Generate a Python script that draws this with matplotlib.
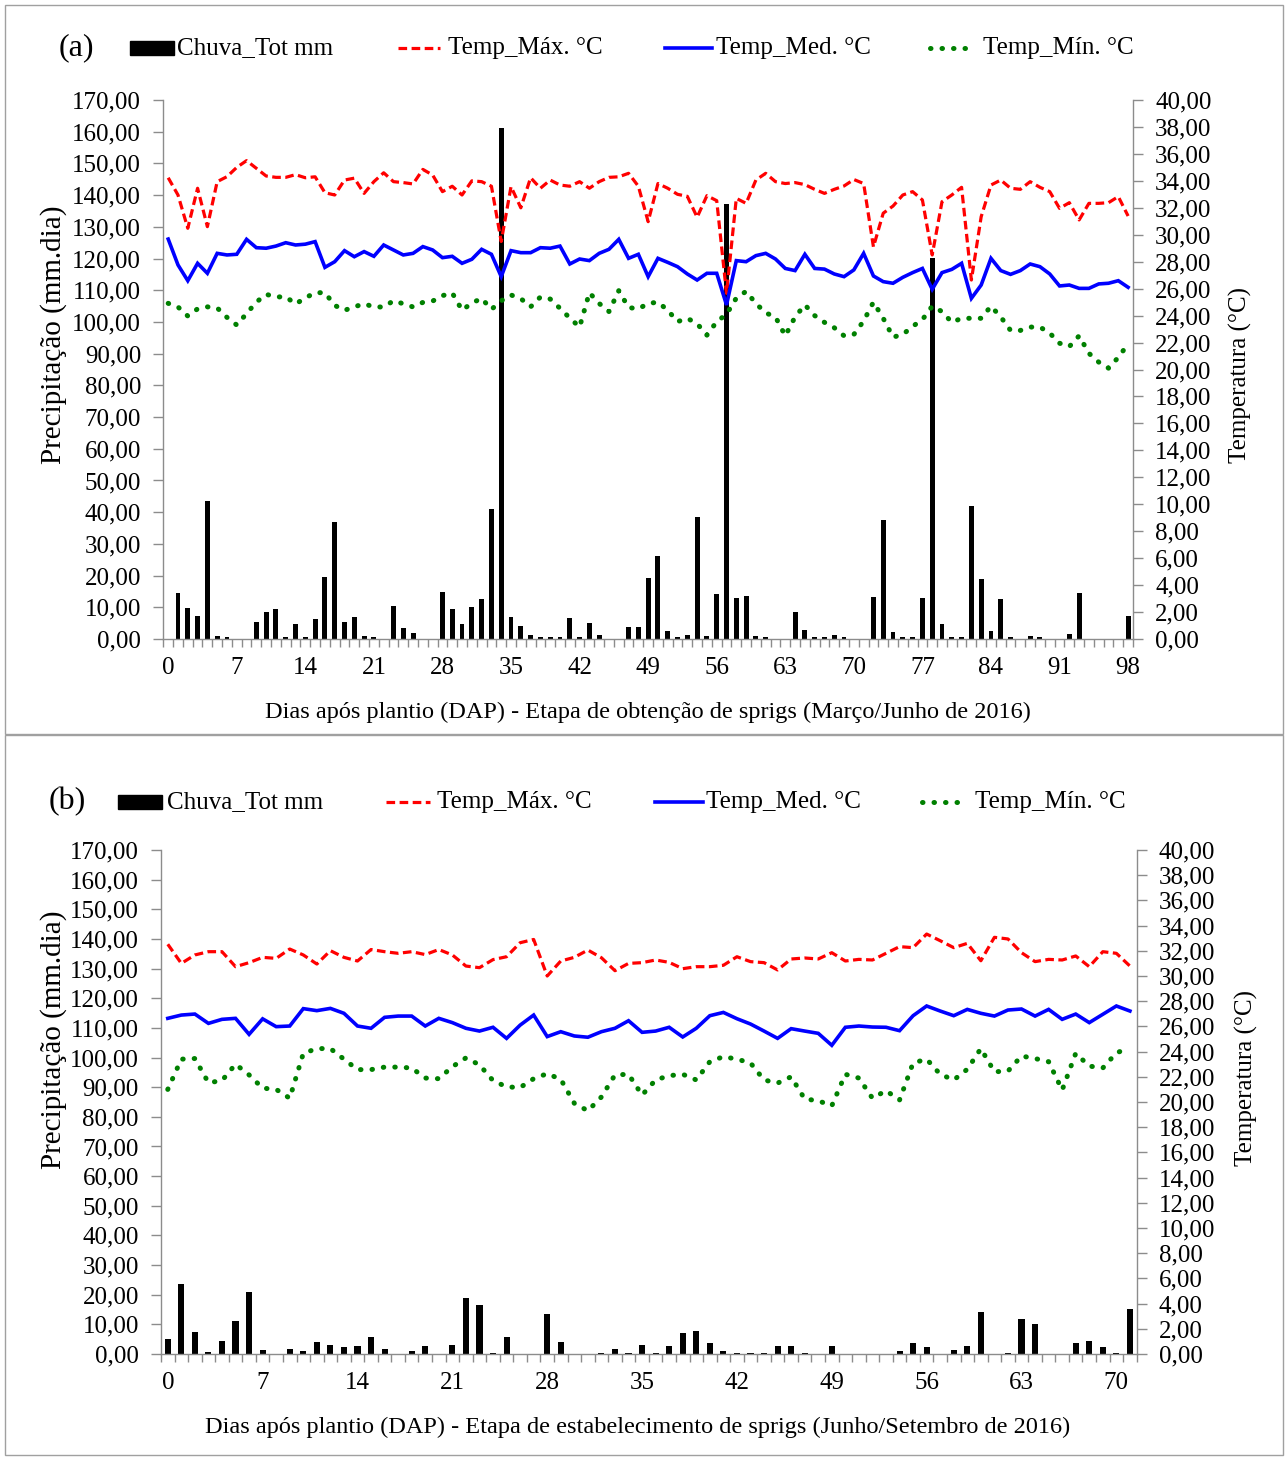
import numpy as np
import matplotlib
matplotlib.use('Agg')
import matplotlib.pyplot as plt
from matplotlib.lines import Line2D
from matplotlib.patches import Rectangle
from matplotlib.ticker import FuncFormatter

plt.rcParams['font.family'] = ['Liberation Serif', 'DejaVu Serif']

# ---- dados (a): Março/Junho 2016, dias 0..98 ----
chuva_a = [0, 14.5, 9.7, 7.4, 43.6, 1.0, 0.6, 0, 0, 5.4,
           8.5, 9.4, 0.5, 4.6, 0.6, 6.2, 19.7, 36.8, 5.4, 6.9,
           1.0, 0.6, 0, 10.5, 3.4, 1.8, 0, 0, 14.9, 9.4,
           4.6, 10.1, 12.5, 40.9, 161.2, 6.9, 4.1, 1.4, 0.6, 0.6,
           0.6, 6.5, 0.6, 4.9, 1.4, 0, 0, 3.7, 3.7, 19.2,
           26.1, 2.4, 0.5, 1.3, 38.5, 0.8, 14.1, 137.2, 12.9, 13.7,
           0.8, 0.5, 0, 0, 8.5, 2.9, 0.5, 0.5, 1.3, 0.5,
           0, 0, 13.2, 37.6, 2.1, 0.5, 0.5, 12.8, 120.2, 4.8,
           0.5, 0.5, 42.1, 18.8, 2.5, 12.5, 0.5, 0, 0.9, 0.5,
           0, 0, 1.7, 14.5, 0, 0, 0, 0, 7.3]
tmax_a = [34.23, 32.95, 30.48, 33.45, 30.6, 33.94, 34.31, 35.0, 35.5, 34.93,
          34.36, 34.26, 34.26, 34.46, 34.23, 34.3, 33.12, 32.95, 34.06, 34.2,
          33.07, 33.94, 34.6, 33.94, 33.87, 33.77, 34.85, 34.43, 33.2, 33.6,
          32.95, 34.0, 33.94, 33.6, 29.5, 33.57, 32.0, 34.23, 33.45, 34.06,
          33.69, 33.6, 33.94, 33.45, 33.94, 34.26, 34.3, 34.56, 33.6, 30.97,
          33.8, 33.45, 33.0, 32.85, 31.3, 32.9, 32.53, 25.65, 32.7, 32.33,
          34.06, 34.56, 33.94, 33.8, 33.87, 33.72, 33.37, 33.07, 33.37, 33.62,
          34.1, 33.8, 29.1, 31.6, 32.13, 32.95, 33.2, 32.58, 28.5, 32.45,
          32.95, 33.52, 26.64, 31.34, 33.69, 34.06, 33.45, 33.37, 33.94, 33.52,
          33.2, 31.96, 32.38, 31.1, 32.33, 32.33, 32.38, 32.83, 31.39]
tmed_a = [29.68, 27.76, 26.59, 27.88, 27.14, 28.62, 28.5, 28.55, 29.66, 29.04,
          29.0, 29.16, 29.41, 29.24, 29.3, 29.49, 27.58, 28.0, 28.82, 28.37,
          28.75, 28.4, 29.24, 28.87, 28.5, 28.62, 29.12, 28.87, 28.3, 28.4,
          27.88, 28.18, 28.92, 28.55, 26.89, 28.82, 28.67, 28.67, 29.04, 29.0,
          29.16, 27.83, 28.2, 28.08, 28.62, 28.92, 29.66, 28.25, 28.55, 26.89,
          28.25, 27.95, 27.63, 27.09, 26.64, 27.14, 27.14, 24.79, 28.08, 28.0,
          28.45, 28.62, 28.2, 27.5, 27.34, 28.55, 27.5, 27.45, 27.09, 26.89,
          27.39, 28.62, 26.94, 26.52, 26.4, 26.84, 27.19, 27.5, 25.95, 27.19,
          27.43, 27.88, 25.28, 26.27, 28.25, 27.34, 27.06, 27.34, 27.83, 27.63,
          27.09, 26.2, 26.27, 26.02, 26.02, 26.35, 26.4, 26.59, 26.1]
tmin_a = [24.91, 24.64, 23.97, 24.5, 24.65, 24.57, 23.87, 23.3, 24.15, 25.0,
          25.58, 25.38, 25.4, 24.86, 25.31, 25.7, 25.7, 24.76, 24.39, 24.65,
          24.88, 24.64, 24.64, 25.1, 24.88, 24.64, 24.98, 25.08, 25.48, 25.68,
          24.4, 24.93, 25.28, 24.46, 25.1, 25.53, 25.26, 24.65, 25.38, 25.23,
          24.54, 23.82, 23.15, 25.7, 24.9, 24.3, 25.85, 24.6, 24.5, 24.9,
          25.0, 24.4, 23.55, 23.8, 23.4, 22.55, 23.55, 24.1, 25.3, 25.8,
          24.9, 24.2, 23.9, 22.5, 23.9, 24.8, 24.0, 23.5, 23.1, 22.5,
          22.6, 23.6, 25.0, 23.8, 22.4, 22.6, 23.2, 23.7, 24.7, 24.3,
          23.5, 23.8, 23.8, 23.8, 24.7, 23.9, 22.9, 22.9, 23.15, 23.15,
          22.7, 21.95, 21.7, 22.5, 21.2, 20.55, 20.1, 20.9, 21.9]

# ---- dados (b): Junho/Setembro 2016, dias 0..71 ----
chuva_b = [5.2, 23.6, 7.4, 0.6, 4.5, 11.2, 21.0, 1.5, 0, 1.8,
           1.0, 3.9, 3.1, 2.2, 2.7, 5.6, 1.8, 0, 0.9, 2.7,
           0, 3.1, 18.9, 16.4, 0.5, 5.6, 0, 0, 13.4, 3.9,
           0, 0, 0.5, 1.8, 0.5, 3.1, 0.5, 2.7, 7.0, 7.9,
           3.6, 1.0, 0.5, 0.5, 0.5, 2.7, 2.7, 0.5, 0, 2.7,
           0, 0, 0, 0, 1.0, 3.6, 2.2, 0, 1.5, 2.7,
           14.3, 0, 0.5, 11.7, 10.0, 0, 0, 3.6, 4.5, 2.2,
           0.5, 15.1]
tmax_b = [32.52, 31.0, 31.67, 31.93, 31.93, 30.74, 31.06, 31.48, 31.4, 32.14,
          31.67, 30.95, 32.01, 31.48, 31.19, 32.1, 31.93, 31.8, 31.93, 31.7,
          32.1, 31.67, 30.79, 30.66, 31.3, 31.53, 32.64, 32.9, 30.0, 31.19,
          31.48, 32.06, 31.45, 30.42, 31.0, 31.06, 31.27, 31.08, 30.58, 30.74,
          30.74, 30.85, 31.53, 31.14, 31.06, 30.48, 31.35, 31.43, 31.35, 31.85,
          31.19, 31.32, 31.27, 31.8, 32.33, 32.25, 33.33, 32.8, 32.25, 32.59,
          31.21, 33.07, 32.94, 31.85, 31.14, 31.32, 31.27, 31.59, 30.74, 31.93,
          31.8, 30.79]
tmed_b = [26.64, 26.9, 26.98, 26.24, 26.56, 26.64, 25.37, 26.6, 25.98, 26.03,
          27.41, 27.25, 27.43, 27.04, 26.03, 25.85, 26.72, 26.82, 26.82, 26.03,
          26.64, 26.3, 25.85, 25.63, 25.93, 25.05, 26.1, 26.9, 25.19, 25.58,
          25.24, 25.14, 25.58, 25.85, 26.45, 25.53, 25.63, 25.93, 25.16, 25.85,
          26.85, 27.11, 26.61, 26.19, 25.63, 25.05, 25.82, 25.63, 25.45, 24.5,
          25.93, 26.03, 25.95, 25.93, 25.66, 26.85, 27.62, 27.22, 26.85, 27.35,
          27.04, 26.82, 27.3, 27.38, 26.82, 27.35, 26.56, 26.98, 26.3, 26.96,
          27.62, 27.22]
tmin_b = [21.0, 23.4, 23.45, 21.53, 21.7, 23.0, 22.15, 21.1, 21.0, 20.3,
          23.86, 24.24, 24.24, 23.4, 22.57, 22.57, 22.77, 22.77, 22.7, 21.9,
          21.85, 22.8, 23.5, 22.95, 21.7, 21.2, 21.15, 21.85, 22.25, 21.8,
          19.9, 19.3, 20.4, 22.15, 22.2, 20.55, 21.75, 22.09, 22.2, 21.75,
          23.2, 23.6, 23.4, 23.1, 21.75, 21.5, 22.0, 20.24, 20.1, 19.7,
          22.2, 21.9, 20.3, 20.9, 20.16, 23.1, 23.4, 22.2, 21.75, 22.6,
          24.24, 22.4, 22.45, 23.65, 23.45, 23.2, 20.95, 23.86, 22.85, 22.7,
          23.9, 24.3]

titulo_a = 'Dias após plantio (DAP) - Etapa de obtenção de sprigs (Março/Junho de 2016)'
titulo_b = 'Dias após plantio (DAP) - Etapa de estabelecimento de sprigs (Junho/Setembro de 2016)'
nomes = ['Chuva_Tot mm', 'Temp_Máx. °C', 'Temp_Med. °C', 'Temp_Mín. °C']

W, H = 1285, 1457
CINZA = '#8c8c8c'
FS = 18

estilos = {
    'max': dict(color='#ff0000', lw=2.3, linestyle=(0, (2.7, 1.4)), dash_capstyle='butt'),
    'med': dict(color='#0000ff', lw=2.6, solid_joinstyle='miter'),
    'min': dict(color='#008000', lw=3.6, linestyle=(0, (0.1, 2.2)), dash_capstyle='round'),
}

virgula = FuncFormatter(lambda v, p: ('%.2f' % v).replace('.', ','))

fig = plt.figure(figsize=(W / 100, H / 100), dpi=100)


def px(x, y):
    return x / W, 1 - y / H


def legenda(y, xs, letra, xletra):
    # (xs) = [(inicio, fim, texto)] em pixels para as 4 entradas
    t = fig.transFigure
    fig.text(*px(xletra, y), letra, fontsize=23, va='center', ha='left')
    x0, x1, xt = xs[0]
    a, b = px(x0, y + 7)
    c, d = px(x1, y - 7)
    fig.patches.append(Rectangle((a, b), c - a, d - b, transform=t, color='black'))
    fig.text(*px(xt, y), nomes[0], fontsize=FS, va='center', ha='left')
    for (x0, x1, xt), chave, nome in zip(xs[1:], ['max', 'med', 'min'], nomes[1:]):
        a, b = px(x0, y)
        c, _ = px(x1, y)
        fig.lines.append(Line2D([a, c], [b, b], transform=t, **estilos[chave]))
        fig.text(*px(xt, y), nome, fontsize=FS, va='center', ha='left')


def painel(caixa, chuva, tmax, tmed, tmin, titulo, lab_coords, largura):
    x0, y0, x1, y1 = caixa
    l, b = px(x0, y1)
    r, t = px(x1, y0)
    ax = fig.add_axes([l, b, r - l, t - b])
    n = len(chuva)
    dias = np.arange(n)
    ax.bar(dias, chuva, width=largura, color='black', zorder=2)
    ax.set_xlim(-0.5, n - 0.5)
    ax.set_ylim(0, 170)
    ax.set_yticks(np.arange(0, 171, 10))
    ax.yaxis.set_major_formatter(virgula)
    ax.set_xticks(np.arange(0, n, 7))
    ax.set_xticks(np.arange(-0.5, n, 1), minor=True)
    ax.tick_params(axis='x', which='major', length=0, pad=13, labelsize=FS)
    ax.tick_params(axis='x', which='minor', length=6, width=1, color=CINZA, direction='out')
    ax.tick_params(axis='y', length=7, width=1, color=CINZA, direction='out', pad=9, labelsize=FS)

    ax2 = ax.twinx()
    ax2.plot(dias, tmax, **estilos['max'])
    ax2.plot(dias, tmed, **estilos['med'])
    ax2.plot(dias, tmin, **estilos['min'])
    ax2.set_ylim(0, 40)
    ax2.set_yticks(np.arange(0, 41, 2))
    ax2.yaxis.set_major_formatter(virgula)
    ax2.tick_params(axis='y', length=7, width=1, color=CINZA, direction='out', pad=9, labelsize=FS)

    for a in (ax, ax2):
        a.spines['top'].set_visible(False)
        for s in ('left', 'right', 'bottom'):
            a.spines[s].set_color(CINZA)
            a.spines[s].set_linewidth(1)
    ax.spines['right'].set_visible(False)
    ax2.spines['left'].set_visible(False)
    ax2.spines['bottom'].set_visible(False)

    ax.set_xlabel(titulo, fontsize=17.5)
    ax.set_ylabel('Precipitação (mm.dia)', fontsize=21)
    ax2.set_ylabel('Temperatura (°C)', fontsize=FS)
    (xl, yl), (xy1, yy1), (xy2, yy2) = lab_coords
    ax.xaxis.set_label_coords(xl, yl)
    ax.yaxis.set_label_coords(xy1, yy1)
    ax2.yaxis.set_label_coords(xy2, yy2)
    return ax, ax2


painel((163.3, 100, 1133, 639), chuva_a, tmax_a, tmed_a, tmin_a, titulo_a,
       ((0.5, -0.117), (-0.099, 0.564), (1.099, 0.49)), 0.5)
painel((161, 850, 1136.7, 1354), chuva_b, tmax_b, tmed_b, tmin_b, titulo_b,
       ((0.489, -0.125), (-0.096, 0.623), (1.101, 0.548)), 0.45)

legenda(48, [(130, 174, 177), (398, 440, 448), (665, 712, 716), (930, 975, 983)], '(a)', 59)
legenda(802, [(118, 162, 167), (386, 430, 437), (655, 703, 706), (922, 968, 975)], '(b)', 49)

# molduras dos dois quadros
for y0, y1 in ((5, 734), (735, 1455)):
    a, b = px(5, y1)
    c, d = px(1283, y0)
    fig.patches.append(Rectangle((a, b), c - a, d - b, transform=fig.transFigure,
                                 fill=False, edgecolor='#a0a0a0', lw=1))

fig.savefig('out.png', dpi=100, facecolor='white')
